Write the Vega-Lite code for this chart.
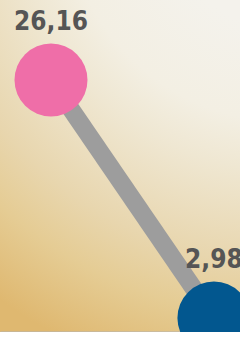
{
  "$schema": "https://vega.github.io/schema/vega-lite/v6.json",
  "width": 240,
  "height": 332,
  "padding": 0,
  "autosize": {"type": "none"},
  "background": "#f4f3ee",
  "config": {
    "view": {
      "stroke": null,
      "fill": {
        "gradient": "radial",
        "x1": 1, "y1": -0.3, "r1": 0,
        "x2": 1, "y2": -0.3, "r2": 1.48,
        "stops": [
          {"offset": 0, "color": "#f4f2ec"},
          {"offset": 0.26, "color": "#f4f2ec"},
          {"offset": 0.45, "color": "#f3efe3"},
          {"offset": 0.55, "color": "#efe7d2"},
          {"offset": 0.74, "color": "#e8d6ae"},
          {"offset": 0.85, "color": "#e5cc94"},
          {"offset": 1, "color": "#dfb870"}
        ]
      }
    }
  },
  "data": {
    "values": [
      {"pos": 1, "value": 26.16, "label": "26,16", "kind": "a"},
      {"pos": 2, "value": 2.98, "label": "2,98", "kind": "b"}
    ]
  },
  "encoding": {
    "x": {
      "field": "pos", "type": "quantitative",
      "scale": {"domain": [0.687, 2.16], "nice": false, "zero": false},
      "axis": {"labels": false, "ticks": false, "grid": false, "title": null, "domainColor": "#b3b4b6", "domainWidth": 3, "offset": 0.5}
    },
    "y": {
      "field": "value", "type": "quantitative",
      "scale": {"domain": [1.62, 33.95], "nice": false, "zero": false},
      "axis": null
    }
  },
  "layer": [
    {"mark": {"type": "line", "color": "#9d9d9d", "strokeWidth": 18}},
    {
      "mark": {"type": "circle", "size": 5330, "opacity": 1},
      "encoding": {
        "color": {
          "field": "kind", "type": "nominal",
          "scale": {"domain": ["a", "b"], "range": ["#ef6ea8", "#02578f"]},
          "legend": null
        }
      }
    },
    {
      "mark": {"type": "text", "dy": -50, "baseline": "alphabetic", "align": "center", "font": "DejaVu Sans Condensed, DejaVu Sans, sans-serif", "fontWeight": "bold", "fontSize": 26, "color": "#555555"},
      "encoding": {"text": {"field": "label"}}
    }
  ]
}
